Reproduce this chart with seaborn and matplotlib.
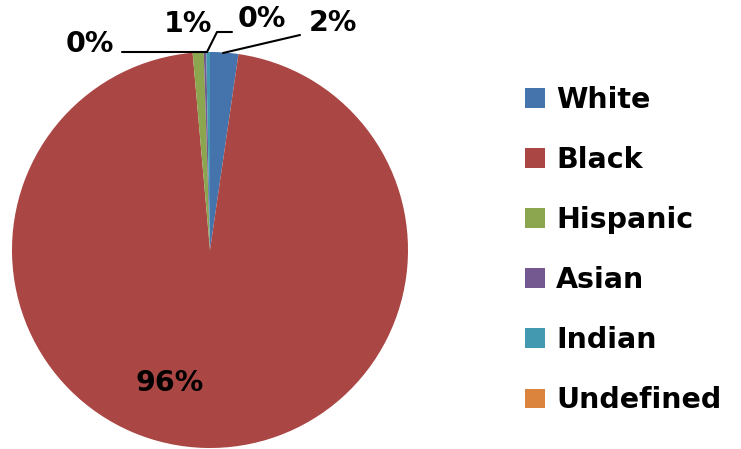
import matplotlib
matplotlib.use("Agg")
import matplotlib.pyplot as plt
import seaborn as sns

# Data (percent of total)
groups = ["White", "Black", "Hispanic", "Asian", "Indian", "Undefined"]
shares = [2.3, 96.3, 0.9, 0.2, 0.3, 0.0]
colors = ["#4573AB", "#AA4644", "#8BA64F", "#735990", "#4399B0", "#DB843E"]

sns.set_theme(style="white")
plt.rcParams['font.family'] = ['DejaVu Sans']
plt.rcParams['font.weight'] = 'bold'
plt.rcParams['text.color'] = 'black'

W, H = 741, 449
cx, cy, r = 210, 250, 198
fig = plt.figure(figsize=(W / 100, H / 100), dpi=100)
ax = fig.add_axes([(cx - r) / W, (H - cy - r) / H, 2 * r / W, 2 * r / H])

wedges, _ = ax.pie(shares, colors=colors, startangle=90, counterclock=False,
                   radius=1, wedgeprops=dict(linewidth=0))
ax.set_xlim(-1, 1)
ax.set_ylim(-1, 1)
ax.set_aspect('equal')
ax.axis('off')


def px(x, y):
    # pixel position -> pie data coordinates
    return (x - cx) / r, (cy - y) / r


# label placement (pixels) and optional leader lines for each group
label_pos = {
    "White": ((333, 23), [(300, 35), (223, 53)]),
    "Black": ((170, 383), None),
    "Hispanic": ((188, 24), None),
    "Asian": ((90, 44), [(122, 52), (207, 52)]),
    "Indian": ((262, 19), [(232, 32), (217, 32), (207, 52)]),
}

for g, v in zip(groups, shares):
    if g not in label_pos:
        continue
    (lx, ly), line = label_pos[g]
    tx, ty = px(lx, ly)
    ax.text(tx, ty, f"{v:.0f}%", ha='center', va='center', fontsize=20.5,
            fontweight='bold', color='black', clip_on=False)
    if line:
        pts = [px(a, b) for a, b in line]
        ax.plot([p[0] for p in pts], [p[1] for p in pts], color='black',
                lw=1.5, clip_on=False)

leg = fig.legend(wedges, groups, loc='center left',
                 bbox_to_anchor=(525 / W, 1 - 250 / H), frameon=False,
                 fontsize=20.5, handlelength=0.7, handleheight=0.7,
                 handletextpad=0.4, labelspacing=1.13, borderpad=0,
                 borderaxespad=0)
for t in leg.get_texts():
    t.set_fontweight('bold')
    t.set_color('black')

fig.savefig("out.png", dpi=100)
